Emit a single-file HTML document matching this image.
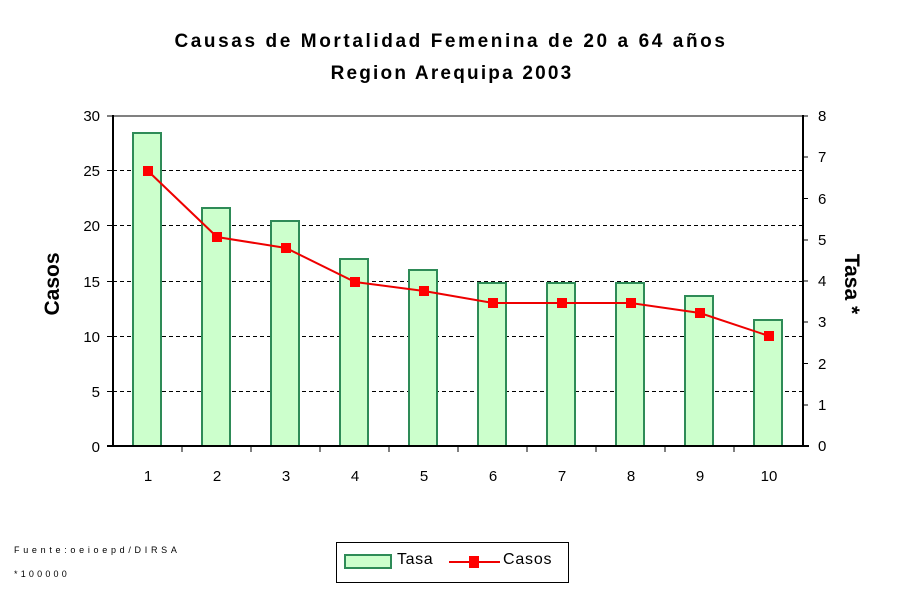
<!DOCTYPE html>
<html><head><meta charset="utf-8"><style>body{margin:0;background:#fff}svg{display:block}</style></head><body>
<svg width="900" height="600" xmlns="http://www.w3.org/2000/svg" font-family="Liberation Sans, Arial, sans-serif">
<text x="451" y="47" text-anchor="middle" font-size="19" font-weight="bold" letter-spacing="2.6">Causas de Mortalidad  Femenina de 20 a 64 años</text>
<text x="452" y="79" text-anchor="middle" font-size="19" font-weight="bold" letter-spacing="2.2">Region Arequipa 2003</text>
<line x1="113" y1="116" x2="803" y2="116" stroke="#808080" stroke-width="2"/>
<g stroke="#000" stroke-dasharray="4,3" stroke-width="1">
<line x1="113" y1="170.5" x2="803" y2="170.5"/><line x1="113" y1="225.5" x2="803" y2="225.5"/>
<line x1="113" y1="281.5" x2="803" y2="281.5"/><line x1="113" y1="336.5" x2="803" y2="336.5"/>
<line x1="113" y1="391.5" x2="803" y2="391.5"/>
</g>
<g fill="#ccffcc" stroke="#2e8b57" stroke-width="2">
<rect x="133" y="133" width="28" height="313"/><rect x="202" y="208" width="28" height="238"/>
<rect x="271" y="221" width="28" height="225"/><rect x="340" y="259" width="28" height="187"/>
<rect x="409" y="270" width="28" height="176"/><rect x="478" y="283" width="28" height="163"/>
<rect x="547" y="283" width="28" height="163"/><rect x="616" y="283" width="28" height="163"/>
<rect x="685" y="296" width="28" height="150"/><rect x="754" y="320" width="28" height="126"/>
</g>
<g stroke="#000" stroke-width="2" fill="none">
<line x1="113" y1="115" x2="113" y2="447"/><line x1="803" y1="115" x2="803" y2="447"/>
<line x1="107" y1="446" x2="809" y2="446"/>
</g>
<g stroke="#000" stroke-width="1">
<line x1="107" y1="116" x2="113" y2="116"/><line x1="107" y1="170.5" x2="113" y2="170.5"/><line x1="107" y1="225.5" x2="113" y2="225.5"/><line x1="107" y1="281.5" x2="113" y2="281.5"/><line x1="107" y1="336.5" x2="113" y2="336.5"/><line x1="107" y1="391.5" x2="113" y2="391.5"/>
<line x1="803" y1="116" x2="808" y2="116"/><line x1="803" y1="157" x2="808" y2="157"/><line x1="803" y1="198.5" x2="808" y2="198.5"/><line x1="803" y1="240" x2="808" y2="240"/><line x1="803" y1="281" x2="808" y2="281"/><line x1="803" y1="322" x2="808" y2="322"/><line x1="803" y1="363.5" x2="808" y2="363.5"/><line x1="803" y1="405" x2="808" y2="405"/>
<line x1="182" y1="446" x2="182" y2="452"/><line x1="251" y1="446" x2="251" y2="452"/><line x1="320" y1="446" x2="320" y2="452"/><line x1="389" y1="446" x2="389" y2="452"/><line x1="458" y1="446" x2="458" y2="452"/><line x1="527" y1="446" x2="527" y2="452"/><line x1="596" y1="446" x2="596" y2="452"/><line x1="665" y1="446" x2="665" y2="452"/><line x1="734" y1="446" x2="734" y2="452"/>
</g>
<polyline points="148,171 217,237 286,248 355,282 424,291 493,303 562,303 631,303 700,313 769,336" fill="none" stroke="#e00" stroke-width="2"/>
<g fill="#f00">
<rect x="143" y="166" width="10" height="10"/><rect x="212" y="232" width="10" height="10"/><rect x="281" y="243" width="10" height="10"/><rect x="350" y="277" width="10" height="10"/><rect x="419" y="286" width="10" height="10"/><rect x="488" y="298" width="10" height="10"/><rect x="557" y="298" width="10" height="10"/><rect x="626" y="298" width="10" height="10"/><rect x="695" y="308" width="10" height="10"/><rect x="764" y="331" width="10" height="10"/>
</g>
<g font-size="15" text-anchor="end">
<text x="100" y="121">30</text><text x="100" y="176">25</text><text x="100" y="231">20</text><text x="100" y="287">15</text><text x="100" y="342">10</text><text x="100" y="397">5</text><text x="100" y="452">0</text>
</g>
<g font-size="15">
<text x="818" y="121">8</text><text x="818" y="162">7</text><text x="818" y="204">6</text><text x="818" y="245">5</text><text x="818" y="286">4</text><text x="818" y="327">3</text><text x="818" y="369">2</text><text x="818" y="410">1</text><text x="818" y="451">0</text>
</g>
<g font-size="15" text-anchor="middle">
<text x="148" y="481">1</text><text x="217" y="481">2</text><text x="286" y="481">3</text><text x="355" y="481">4</text><text x="424" y="481">5</text><text x="493" y="481">6</text><text x="562" y="481">7</text><text x="631" y="481">8</text><text x="700" y="481">9</text><text x="769" y="481">10</text>
</g>
<text transform="translate(59,284) rotate(-90)" text-anchor="middle" font-size="21" font-weight="bold">Casos</text>
<text transform="translate(845,284) rotate(90)" text-anchor="middle" font-size="21" font-weight="bold">Tasa *</text>
<text x="14" y="553" font-size="9" letter-spacing="3.7">Fuente:oeioepd/DIRSA</text>
<text x="14" y="577" font-size="9" letter-spacing="3.2">*100000</text>
<rect x="336.5" y="542.5" width="232" height="40" fill="#fff" stroke="#000"/>
<rect x="345" y="555" width="46" height="13" fill="#ccffcc" stroke="#2e8b57" stroke-width="2"/>
<text x="397" y="564" font-size="16" letter-spacing="0.6">Tasa</text>
<line x1="449" y1="562" x2="500" y2="562" stroke="#e00" stroke-width="2"/>
<rect x="469" y="556" width="10" height="12" fill="#f00"/>
<text x="503" y="564" font-size="16" letter-spacing="0.8">Casos</text>
</svg>
</body></html>
